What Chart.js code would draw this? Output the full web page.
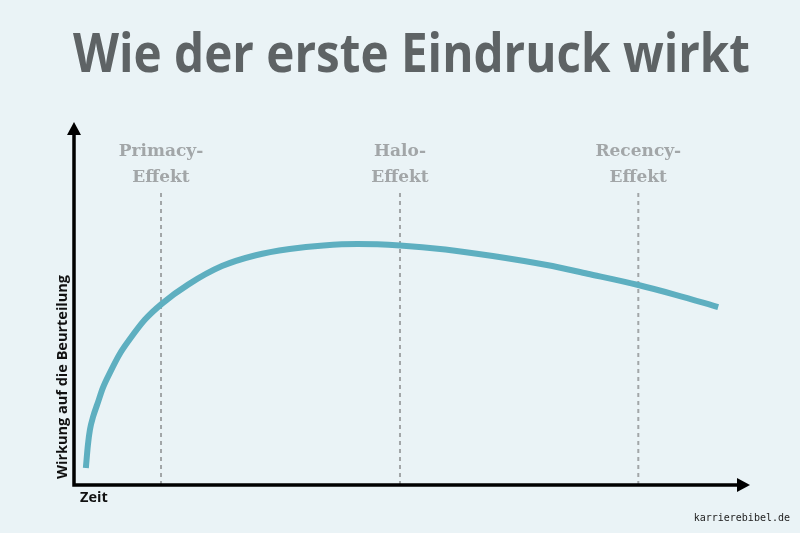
<!DOCTYPE html>
<html>
<head>
<meta charset="utf-8">
<script src="https://cdn.jsdelivr.net/npm/chart.js@4.4.0/dist/chart.umd.min.js"></script>
<style>
    html, body { margin: 0; padding: 0; background: #eaf3f6; }
    #wrap { position: relative; width: 800px; height: 533px; }
</style>
</head>
<body>
<div id="wrap"><canvas id="eindruck"></canvas></div>
<script>
// Zeit (x) and Wirkung (y), 0..100 both ways
var timePoints = [1.9, 2.2, 2.5, 3.0, 3.6, 4.4, 5.5, 6.9, 8.4, 10.6, 13.1, 17, 22, 27, 32, 37, 42, 48.3, 55, 62, 70, 76, 83.5, 89, 95.3];
var impact = [4.7, 11.0, 15.2, 19.0, 22.3, 26.7, 31.1, 36.1, 40.2, 45.5, 49.9, 55.2, 60.3, 63.3, 65.0, 66.0, 66.4, 66.0, 64.9, 63.1, 60.6, 58.2, 55.1, 52.4, 49.0];

var effectNames = [["Primacy-", "Effekt"], ["Halo-", "Effekt"], ["Recency-", "Effekt"]];
var effectTimes = [13, 48.3, 83.5];
var markerTop = 80.7;

var curveColor = "#5eafc0";
var markerColor = "#a2a6a8";

var datasets = [
    {
        data: timePoints.map((t, i) => ({ x: t, y: impact[i] })),
        borderColor: curveColor,
        borderWidth: 6,
        borderCapStyle: "butt",
        cubicInterpolationMode: "monotone",
        pointRadius: 0,
        fill: false,
        clip: false,
        order: 0,
    },
];
effectTimes.forEach((t) => {
    datasets.push({
        data: [{ x: t, y: 0 }, { x: t, y: markerTop }],
        borderColor: markerColor,
        borderWidth: 2,
        borderDash: [4, 4],
        pointRadius: 0,
        fill: false,
        order: 1,
    });
});

// axes with arrow heads, effect labels, axis titles, watermark
var decorations = {
    id: "decorations",
    afterDatasetsDraw(chart) {
        var c = chart.ctx;
        var a = chart.chartArea;
        var xs = chart.scales.x;
        var ys = chart.scales.y;
        c.save();
        c.strokeStyle = "#000";
        c.fillStyle = "#000";
        c.lineWidth = 3.5;
        c.beginPath();
        c.moveTo(a.left + 1, a.top + 10);
        c.lineTo(a.left + 1, a.bottom);
        c.lineTo(a.right - 10, a.bottom);
        c.stroke();
        c.beginPath();
        c.moveTo(a.left + 1, a.top);
        c.lineTo(a.left + 8, a.top + 13);
        c.lineTo(a.left - 6, a.top + 13);
        c.closePath();
        c.fill();
        c.beginPath();
        c.moveTo(a.right, a.bottom);
        c.lineTo(a.right - 13, a.bottom - 7);
        c.lineTo(a.right - 13, a.bottom + 7);
        c.closePath();
        c.fill();

        c.fillStyle = markerColor;
        c.font = "bold 17px 'DejaVu Serif'";
        c.textAlign = "center";
        c.textBaseline = "middle";
        effectTimes.forEach((t, i) => {
            var px = xs.getPixelForValue(t);
            var top = ys.getPixelForValue(markerTop);
            c.fillText(effectNames[i][0], px, top - 40);
            c.fillText(effectNames[i][1], px, top - 14);
        });

        c.fillStyle = "#111";
        c.font = "bold 14.5px 'Open Sans'";
        c.textAlign = "left";
        c.fillText("Zeit", a.left + 7, a.bottom + 13);
        c.save();
        c.translate(a.left - 10, (a.bottom + 273) / 2 - 2);
        c.rotate(-Math.PI / 2);
        c.textAlign = "center";
        c.fillText("Wirkung auf die Beurteilung", 0, 0);
        c.restore();

        c.fillStyle = "#222";
        c.font = "10px 'DejaVu Sans Mono'";
        c.textAlign = "right";
        c.fillText("karrierebibel.de", 790, 518);
        c.restore();
    },
};

new Chart(document.getElementById("eindruck"), {
    type: "line",
    data: { datasets: datasets },
    options: {
        responsive: true,
        maintainAspectRatio: false,
        animation: false,
        layout: { padding: { left: 73, right: 50, top: 0, bottom: 48 } },
        scales: {
            x: { type: "linear", min: 0, max: 100, display: false },
            y: { type: "linear", min: 0, max: 100, display: false },
        },
        plugins: {
            legend: { display: false },
            tooltip: { enabled: false },
            title: {
                display: true,
                text: "Wie der erste Eindruck wirkt",
                color: "#5e6365",
                fullSize: false,
                font: { family: "Open Sans", size: 53, weight: "bold", lineHeight: 1 },
                padding: { top: 30, bottom: 39 },
            },
        },
    },
    plugins: [decorations],
});
</script>
</body>
</html>
